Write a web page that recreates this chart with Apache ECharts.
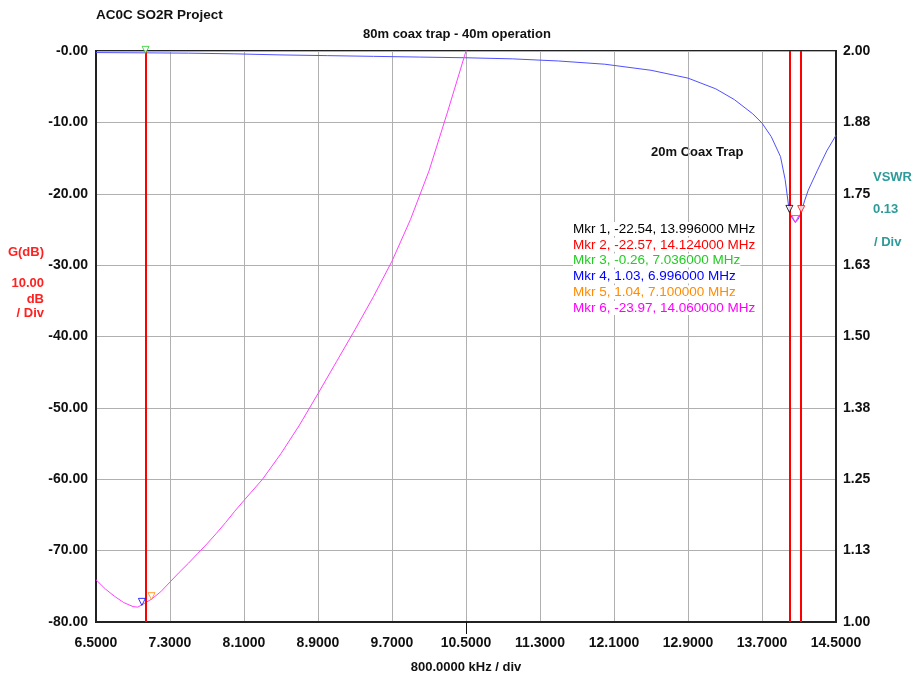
<!DOCTYPE html>
<html>
<head>
<meta charset="utf-8">
<script src="https://cdn.jsdelivr.net/npm/echarts@6/dist/echarts.min.js"></script>
<style>html,body{margin:0;padding:0;background:#fff}#c{width:916px;height:676px}</style>
</head>
<body>
<div id="c"></div>
<script>
// ---- data ----
var xTicksMin = 6.5, xTicksMax = 14.5, xStep = 0.8;
var centerFreq = 10.5;
var gainFreq = [6.5, 7.036, 7.5, 8.0, 8.5, 9.0, 9.5, 10.0, 10.5, 11.0, 11.5, 12.0, 12.5, 12.9, 13.2, 13.4, 13.6, 13.7, 13.8, 13.9, 13.95, 13.996, 14.03, 14.06, 14.09, 14.124, 14.16, 14.2, 14.3, 14.4, 14.5];
var gainDb   = [-0.22, -0.26, -0.3, -0.4, -0.55, -0.65, -0.75, -0.85, -0.95, -1.1, -1.4, -1.85, -2.7, -3.8, -5.3, -6.8, -8.8, -10.1, -12.0, -14.8, -18.0, -22.54, -23.5, -23.97, -23.6, -22.57, -21.0, -19.5, -16.7, -14.0, -11.8];
var vswrFreq = [6.5, 6.6, 6.7, 6.8, 6.9, 6.95, 6.996, 7.1, 7.2, 7.3, 7.4, 7.5, 7.6, 7.7, 7.8, 7.9, 8.0, 8.1, 8.3, 8.5, 8.7, 8.9, 9.1, 9.3, 9.5, 9.7, 9.9, 10.1, 10.3, 10.5, 10.6];
var vswrVal  = [1.074, 1.058, 1.045, 1.034, 1.027, 1.026, 1.03, 1.04, 1.053, 1.07, 1.087, 1.103, 1.12, 1.137, 1.155, 1.174, 1.194, 1.213, 1.25, 1.295, 1.345, 1.40, 1.456, 1.512, 1.570, 1.632, 1.705, 1.79, 1.893, 2.0, 2.055];
var markerNames = ['Mkr 1', 'Mkr 2', 'Mkr 3', 'Mkr 4', 'Mkr 5', 'Mkr 6'];
var markerVal   = [-22.54, -22.57, -0.26, 1.03, 1.04, -23.97];
var markerFreq  = [13.996, 14.124, 7.036, 6.996, 7.1, 14.06];
var markerOnVswr = [false, false, false, true, true, false];
var cursorFreq = [7.036, 13.996, 14.124];
var leftTickLabelTop = '-0.00';

// ---- styles ----
var markerColors = ['#000000', '#ff0000', '#22cc22', '#0000ff', '#ff8c00', '#ff00ff'];
var FONT = '"Liberation Sans", Arial, sans-serif';

var chart = echarts.init(document.getElementById('c'), null, {renderer: 'canvas'});

function mkSeriesData(onVswr) {
  var out = [];
  for (var i = 0; i < markerNames.length; i++) {
    if (markerOnVswr[i] === onVswr) {
      out.push({value: [markerFreq[i], markerVal[i]],
        itemStyle: {color: '#fff', borderColor: markerColors[i], borderWidth: 1}});
    }
  }
  return out;
}

var graphics = [];
var legendTop = 228;
for (var i = 0; i < markerNames.length; i++) {
  graphics.push({type: 'text', left: 573, top: legendTop - 6 + i * 15.8, z: 100,
    style: {text: markerNames[i] + ', ' + markerVal[i].toFixed(2) + ', ' + markerFreq[i].toFixed(6) + ' MHz',
      fill: markerColors[i], font: 'normal 13.5px ' + FONT, backgroundColor: '#fff'}});
}
var red = '#ff2020', teal = '#2e9a9a';
graphics.push(
  {type: 'text', right: 916 - 44, top: 246, style: {text: 'G(dB)', fill: red, font: 'bold 13px ' + FONT}},
  {type: 'text', right: 916 - 44, top: 277, style: {text: '10.00', fill: red, font: 'bold 13px ' + FONT}},
  {type: 'text', right: 916 - 44, top: 293, style: {text: 'dB', fill: red, font: 'bold 13px ' + FONT}},
  {type: 'text', right: 916 - 44, top: 307, style: {text: '/ Div', fill: red, font: 'bold 13px ' + FONT}},
  {type: 'text', left: 873, top: 171, style: {text: 'VSWR', fill: teal, font: 'bold 13px ' + FONT}},
  {type: 'text', left: 873, top: 203, style: {text: '0.13', fill: teal, font: 'bold 13px ' + FONT}},
  {type: 'text', left: 874, top: 236, style: {text: '/ Div', fill: teal, font: 'bold 13px ' + FONT}},
  {type: 'text', left: 651, top: 146, style: {text: '20m Coax Trap', fill: '#111', font: 'bold 13px ' + FONT}},
  {type: 'text', left: 96, top: 8, style: {text: 'AC0C SO2R Project', fill: '#111', font: 'bold 13.5px ' + FONT}},
  {type: 'text', left: 363, top: 28, style: {text: '80m coax trap - 40m operation', fill: '#111', font: 'bold 13px ' + FONT}}
);

var option = {
  animation: false,
  backgroundColor: '#fff',
  grid: {left: 96, right: 80, top: 51, bottom: 54, show: true, borderColor: '#222', borderWidth: 2,
    backgroundColor: 'transparent', containLabel: false, outerBoundsMode: 'none'},
  xAxis: [
    {type: 'value', min: xTicksMin, max: xTicksMax, interval: xStep,
     name: '800.0000 kHz / div', nameLocation: 'middle', nameGap: 39,
     nameTextStyle: {fontFamily: FONT, fontSize: 13, fontWeight: 'bold', color: '#111'},
     axisLine: {show: true, onZero: false, lineStyle: {color: '#222', width: 2}},
     axisTick: {show: false},
     axisLabel: {margin: 14, fontFamily: FONT, fontSize: 14, fontWeight: 'bold', color: '#111',
       formatter: function (v) { return v.toFixed(4); }},
     splitLine: {show: true, lineStyle: {color: '#b0b0b0', width: 1}}},
    {type: 'value', min: xTicksMin, max: xTicksMax, position: 'bottom',
     axisLine: {show: false, onZero: false},
     axisTick: {show: true, customValues: [centerFreq], length: 12, lineStyle: {color: '#111', width: 1}},
     axisLabel: {show: false},
     splitLine: {show: false}}
  ],
  yAxis: [
    {type: 'value', min: -80, max: 0, interval: 10, position: 'left',
     axisLine: {show: true, lineStyle: {color: '#222', width: 2}},
     axisTick: {show: false},
     axisLabel: {margin: 8, fontFamily: FONT, fontSize: 14, fontWeight: 'bold', color: '#111',
       formatter: function (v) { return v === 0 ? leftTickLabelTop : v.toFixed(2); }},
     splitLine: {show: true, lineStyle: {color: '#b0b0b0', width: 1}}},
    {type: 'value', min: 1, max: 2, interval: 0.125, position: 'right',
     axisLine: {show: true, lineStyle: {color: '#222', width: 2}},
     axisTick: {show: false},
     axisLabel: {margin: 7, fontFamily: FONT, fontSize: 14, fontWeight: 'bold', color: '#111',
       formatter: function (v) { return v.toFixed(2); }},
     splitLine: {show: false}}
  ],
  series: [
    {type: 'line', name: 'G', yAxisIndex: 0, showSymbol: false, smooth: false, clip: true,
     data: gainFreq.map(function (f, i) { return [f, gainDb[i]]; }),
     lineStyle: {color: '#5050ff', width: 1}, z: 3,
     markLine: {silent: true, symbol: 'none', label: {show: false},
       lineStyle: {color: '#ff0000', width: 2, type: 'solid'},
       data: cursorFreq.map(function (f) { return {xAxis: f}; })}},
    {type: 'line', name: 'VSWR', yAxisIndex: 1, showSymbol: false, smooth: false, clip: true,
     data: vswrFreq.map(function (f, i) { return [f, vswrVal[i]]; }),
     lineStyle: {color: '#ff40ff', width: 1}, z: 3},
    {type: 'scatter', yAxisIndex: 0, symbol: 'triangle', symbolRotate: 180, symbolSize: 7, symbolOffset: [0, -3],
     data: mkSeriesData(false), z: 5},
    {type: 'scatter', yAxisIndex: 1, symbol: 'triangle', symbolRotate: 180, symbolSize: 7, symbolOffset: [0, -3],
     data: mkSeriesData(true), z: 5}
  ],
  graphic: graphics
};
chart.setOption(option);
</script>
</body>
</html>
